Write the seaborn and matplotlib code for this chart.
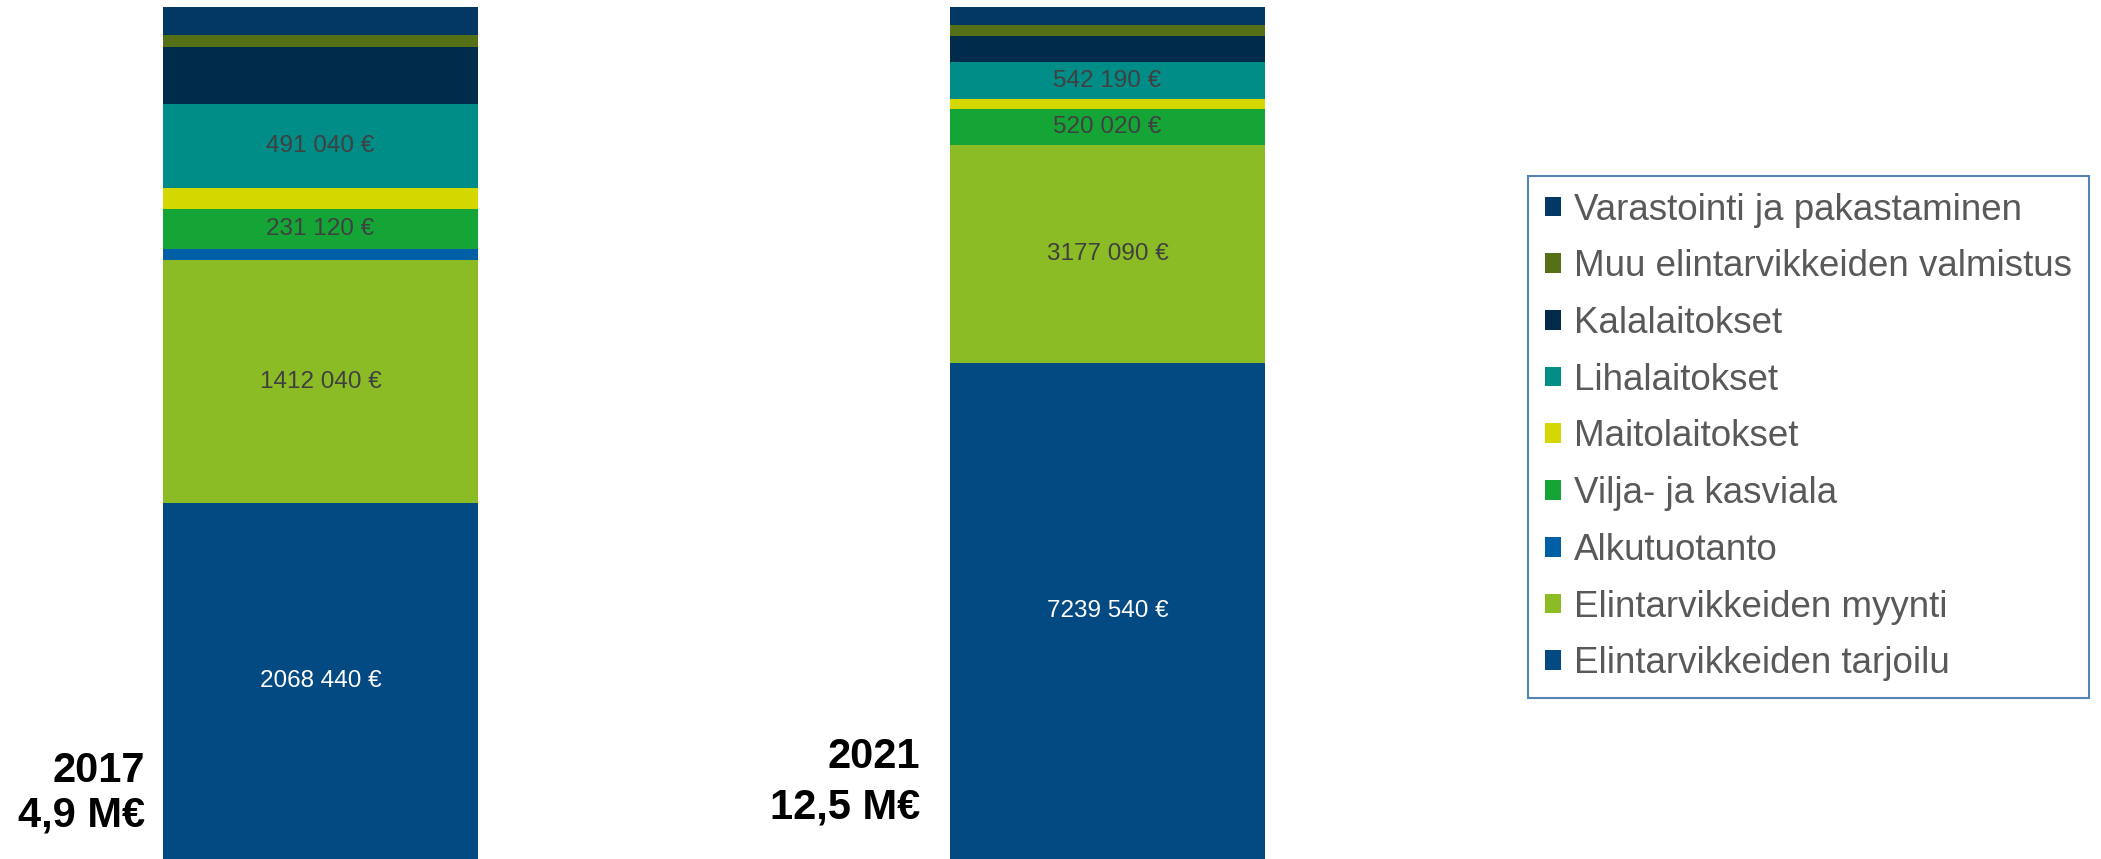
import matplotlib
matplotlib.use("Agg")
import matplotlib.pyplot as plt
import seaborn as sns
import numpy as np
import pandas as pd
from matplotlib.patches import Patch

# ---- data (stack order: bottom -> top) ----
years = ["2017", "2021"]
year_labels = ["2017\n4,9 M€", "2021\n12,5 M€"]
sectors = [
    "Elintarvikkeiden tarjoilu",
    "Elintarvikkeiden myynti",
    "Alkutuotanto",
    "Vilja- ja kasviala",
    "Maitolaitokset",
    "Lihalaitokset",
    "Kalalaitokset",
    "Muu elintarvikkeiden valmistus",
    "Varastointi ja pakastaminen",
]
tarjoilu = [2068440, 7239540]
myynti = [1412040, 3177090]
alkutuotanto = [64000, 0]
vilja = [231120, 520020]
maito = [122000, 146000]
liha = [491040, 542190]
kala = [330000, 380000]
muu = [70000, 160000]
varastointi = [163000, 263000]
labelled = ["Elintarvikkeiden tarjoilu", "Elintarvikkeiden myynti",
            "Vilja- ja kasviala", "Lihalaitokset"]
colors = ["#034A83", "#8CBC25", "#005FA5", "#15A537", "#D4D800",
          "#008C87", "#002B4A", "#557016", "#023863"]

sns.set_theme(style="white")
plt.rcParams['font.family'] = ['Liberation Sans', 'DejaVu Sans']

fig = plt.figure(figsize=(21.01, 8.59), dpi=100)
ax = fig.add_axes([0, 0, 1500 / 2101, 852 / 859])

values = np.array([tarjoilu, myynti, alkutuotanto, vilja, maito, liha,
                   kala, muu, varastointi], dtype=float)
totals = values.sum(axis=0)
shares = values / totals
bottoms = np.vstack([np.zeros(len(years)), np.cumsum(shares, axis=0)[:-1]])


def fmt(v):
    v = int(round(v))
    return f"{v // 1000} {v % 1000:03d} €"


for i, sector in enumerate(sectors):
    df = pd.DataFrame({"year": years, "share": shares[i]})
    sns.barplot(data=df, x="year", y="share", order=years, color=colors[i],
                bottom=bottoms[i], width=0.4, saturation=1, errorbar=None,
                linewidth=0, edgecolor="none", ax=ax)
    if sector in labelled:
        tc = "white" if sector == "Elintarvikkeiden tarjoilu" else "#404040"
        for j in range(len(years)):
            ax.text(j, bottoms[i][j] + shares[i][j] / 2, fmt(values[i][j]),
                    ha="center", va="center", color=tc, fontsize=17.5)

offsets = [(-18, 66), (-30, 77)]
spacings = [1.15, 1.33]
for j, lab in enumerate(year_labels):
    ax.annotate(lab, xy=(j - 0.2, 0), xycoords="data",
                xytext=offsets[j], textcoords="offset pixels",
                ha="right", va="center", multialignment="right",
                fontsize=30, fontweight="bold", color="black",
                linespacing=spacings[j])

ax.set_xlim(-320.5 / 787, (1500 - 320.5) / 787)
ax.set_ylim(0, 1)
ax.axis("off")

handles = [Patch(facecolor=c, edgecolor="none") for c in colors][::-1]
labels = sectors[::-1]
leg = fig.legend(handles, labels, loc="upper left",
                 bbox_to_anchor=(1528 / 2101, 1 - 176 / 859),
                 frameon=True, fontsize=26.5, labelspacing=0.59,
                 handlelength=0.45, handleheight=0.45, handletextpad=0.35,
                 borderpad=0.45, borderaxespad=0, fancybox=False,
                 edgecolor="#2A64A0", labelcolor="#595959")
leg.get_frame().set_linewidth(1.5)

fig.savefig("out.png", dpi=100)
